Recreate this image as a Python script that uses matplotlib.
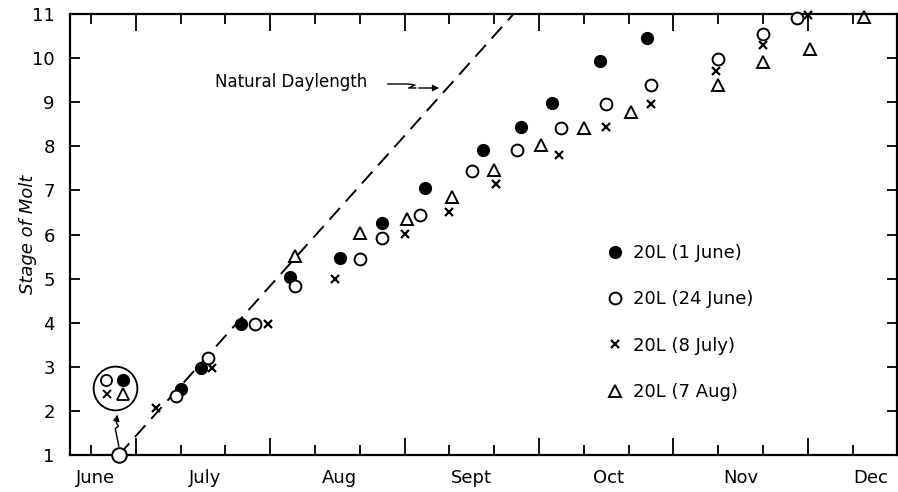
import matplotlib
matplotlib.use("Agg")
import matplotlib.pyplot as plt
from matplotlib.transforms import offset_copy

# x values are days counted from 1 June (30-day months), y is stage of molt
filled_days = [40, 44.5, 53.5, 64.5, 75.5, 85, 94.5, 107.5, 116, 123, 133.5, 144]
filled_stage = [2.5, 2.97, 3.97, 5.04, 5.47, 6.26, 7.05, 7.92, 8.44, 8.98, 9.93, 10.45]

open_days = [39, 46, 56.5, 65.5, 80, 85, 93.5, 105, 115, 125, 135, 145, 160, 170, 177.5]
open_stage = [2.34, 3.2, 3.97, 4.83, 5.44, 5.92, 6.44, 7.44, 7.92, 8.42, 8.96, 9.39, 9.97, 10.55, 10.91]

cross_days = [34.5, 47, 59.5, 74.5, 90, 100, 110.5, 124.5, 135, 145, 159.5, 170, 180]
cross_stage = [2.07, 2.97, 3.97, 4.99, 6.01, 6.51, 7.15, 7.8, 8.44, 8.96, 9.71, 10.3, 10.98]

tri_days = [65.5, 80, 90.5, 100.5, 110, 120.5, 130, 140.5, 160, 170, 180.5, 192.5]
tri_stage = [5.51, 6.03, 6.35, 6.85, 7.46, 8.03, 8.41, 8.78, 9.39, 9.92, 10.2, 10.93]

start_day, start_stage = 26.2, 1.0
daylength_days = [26.2, 114.3]
daylength_stage = [1.0, 11.0]

labels = ["20L (1 June)", "20L (24 June)", "20L (8 July)", "20L (7 Aug)"]
month_names = ["June", "July", "Aug", "Sept", "Oct", "Nov", "Dec"]
month_label_days = [21, 45.5, 75.5, 105, 135.5, 165, 194]

fig = plt.figure(figsize=(8.98, 4.92), dpi=100)
ax = fig.add_axes([70 / 898, 37 / 492, 827 / 898, 441 / 492])

ax.plot(daylength_days, daylength_stage, color="k", lw=1.4,
        linestyle=(0, (8, 4.5)), zorder=1)

h1, = ax.plot(filled_days, filled_stage, "o", color="k", ms=8.5, clip_on=False, zorder=3)
h2, = ax.plot(open_days, open_stage, "o", mfc="white", mec="k", mew=1.4, ms=8.5,
              clip_on=False, zorder=3)
h3, = ax.plot(cross_days, cross_stage, "x", color="k", mew=1.6, ms=5.5, clip_on=False, zorder=3)
h4, = ax.plot(tri_days, tri_stage, "^", mfc="none", mec="k", mew=1.4, ms=9,
              clip_on=False, zorder=3)
ax.plot([start_day], [start_stage], "o", mfc="white", mec="k", mew=1.4, ms=10.5,
        clip_on=False, zorder=4)

# inset: all four groups start together
inset_day, inset_stage = 25.3, 2.52
ax.plot([inset_day], [inset_stage], "o", mfc="none", mec="k", mew=1.3, ms=31.5, clip_on=False)
for dx, dy, m, kw in [(-9, 8, "o", dict(mfc="white", mec="k", mew=1.3, ms=8)),
                      (8, 8, "o", dict(color="k", ms=8.5)),
                      (-8, -6, "x", dict(color="k", mew=1.4, ms=5.5)),
                      (8, -6, "^", dict(mfc="none", mec="k", mew=1.3, ms=8.5))]:
    tr = offset_copy(ax.transData, fig=fig, x=dx, y=dy, units="dots")
    ax.plot([inset_day], [inset_stage], m, transform=tr, clip_on=False, **kw)

ax.plot([26.2, 25.4, 26.1, 25.6], [1.2, 1.6, 1.65, 1.75], color="k", lw=1)
ax.annotate("", xy=(26.0, 1.98), xytext=(25.6, 1.75),
            arrowprops=dict(arrowstyle="-|>", color="k", lw=1, mutation_scale=9))

ax.text(47.6, 9.46, "Natural Daylength", fontsize=12, ha="left", va="center")
ax.plot([86.25, 90.7, 92.3, 90.9, 92.5], [9.413, 9.413, 9.39, 9.322, 9.322], color="k", lw=1)
ax.annotate("", xy=(98.3, 9.322), xytext=(92.5, 9.322),
            arrowprops=dict(arrowstyle="-|>", color="k", lw=1, mutation_scale=9))

ax.set_xlim(15.3, 199.9)
ax.set_ylim(1, 11)
ax.set_xticks(range(30, 181, 30))
ax.set_xticks([d for d in range(20, 200, 10) if d % 30 != 0], minor=True)
ax.set_xticklabels([])
ax.set_yticks(range(1, 12))
ax.tick_params(axis="x", which="both", direction="in", top=True, bottom=True, width=1.3)
ax.tick_params(axis="x", which="major", length=12)
ax.tick_params(axis="x", which="minor", length=7)
ax.tick_params(axis="y", direction="in", left=True, right=True, length=7, width=1.3,
               labelsize=13, pad=11)
for s in ax.spines.values():
    s.set_linewidth(1.6)

for name, d in zip(month_names, month_label_days):
    ax.text(d, -0.052, name, transform=ax.get_xaxis_transform(), ha="center", va="center",
            fontsize=13)

ax.set_ylabel("Stage of Molt", style="italic", fontsize=13)
ax.yaxis.set_label_coords(-0.04, 0.5)

ax.legend([h1, h2, h3, h4], labels, loc="upper left", bbox_to_anchor=(0.639, 0.495),
          frameon=False, fontsize=13, labelspacing=1.57, handletextpad=0.5,
          handlelength=1.0, borderaxespad=0)

fig.savefig("out.png", dpi=100)
